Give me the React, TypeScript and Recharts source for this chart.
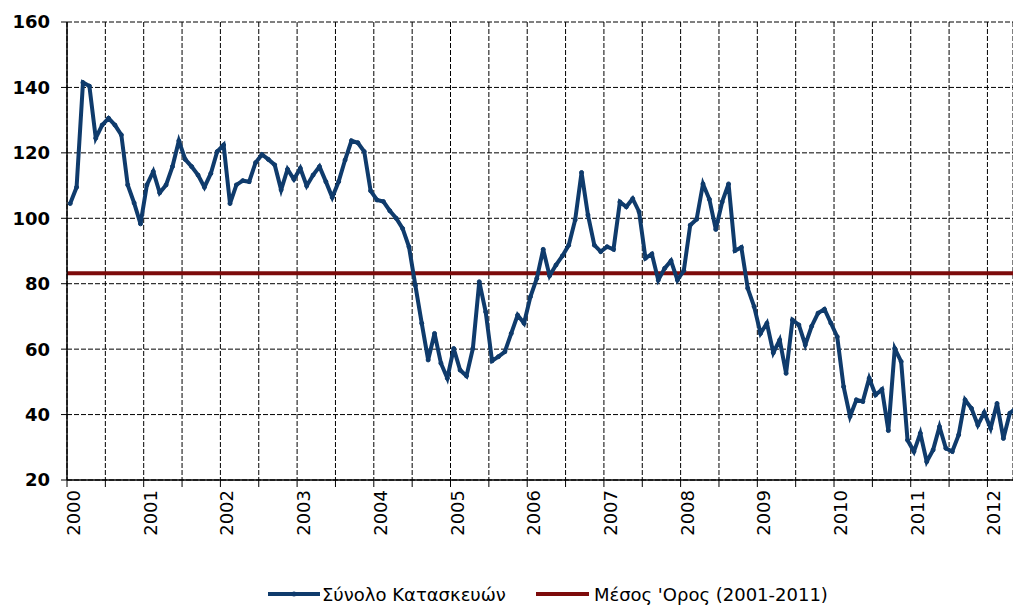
import React from 'react';
import { LineChart, Line, XAxis, YAxis, CartesianGrid, Legend } from 'recharts';

// Tick labels
const years = ['2000', '2001', '2002', '2003', '2004', '2005', '2006', '2007', '2008', '2009', '2010', '2011', '2012'];
const yTicks = [20, 40, 60, 80, 100, 120, 140, 160];

// Series: Σύνολο Κατασκευών (monthly)
const v2000 = [104.5, 109.5, 141.5, 140.4, 124.5, 128.5, 130.6, 128.5, 125.5, 110.2, 104.7, 98.3];
const v2001 = [110.2, 114.3, 107.8, 110.2, 115.8, 123.7, 118.0, 115.8, 113.2, 109.5, 113.7, 120.4];
const v2002 = [122.4, 104.5, 110.2, 111.5, 111.2, 117.0, 119.5, 118.0, 116.3, 108.7, 115.0, 111.9];
const v2003 = [115.3, 109.9, 113.2, 115.8, 111.2, 106.4, 111.2, 117.8, 123.7, 123.1, 120.4, 108.4];
const v2004 = [105.6, 105.1, 102.3, 100.0, 96.9, 91.3, 79.5, 67.9, 56.7, 64.8, 55.7, 51.1];
const v2005 = [60.2, 53.6, 51.8, 60.2, 80.6, 71.4, 56.4, 57.7, 59.2, 64.8, 70.4, 67.9];
const v2006 = [76.0, 81.6, 90.5, 82.4, 85.7, 88.5, 91.8, 99.5, 114.0, 101.0, 91.8, 89.8];
const v2007 = [91.3, 90.5, 105.0, 103.5, 106.0, 102.0, 87.8, 89.1, 81.1, 84.7, 87.0, 81.1];
const v2008 = [84.0, 97.9, 99.7, 110.5, 105.8, 96.6, 105.0, 110.5, 90.1, 91.1, 78.6, 73.0];
const v2009 = [64.8, 67.9, 58.9, 62.8, 52.6, 68.9, 67.4, 61.3, 67.0, 71.0, 72.2, 68.0];
const v2010 = [63.8, 48.5, 39.4, 44.5, 44.0, 51.1, 46.0, 47.7, 35.1, 60.2, 56.2, 32.2];
const v2011 = [28.7, 34.3, 25.6, 29.2, 36.3, 29.7, 28.7, 33.8, 44.5, 41.9, 36.8, 40.6];
const v2012 = [35.8, 43.4, 32.7, 40.4, 42.0];

// Series: Μέσος 'Ορος (2001-2011)
const meanValue = 83.2;

const totalSeries = [
  ...v2000, ...v2001, ...v2002, ...v2003, ...v2004, ...v2005, ...v2006,
  ...v2007, ...v2008, ...v2009, ...v2010, ...v2011, ...v2012,
];

const X_MAX = 148;
const seriesData = totalSeries.map((v, i) => ({ m: i + 0.5, total: v }));
const meanData = [
  { m: 0, avg: meanValue },
  { m: X_MAX, avg: meanValue },
];
const xTicks = years.flatMap((_, i) => [i * 12, i * 12 + 6]).filter((t) => t <= X_MAX);

const FONT = 'DejaVu Sans';
const BLUE = '#0f3b6c';
const RED = '#7d0b0b';

const XTick = (props: any) => {
  const { x, y, payload } = props;
  const v = payload.value;
  if (v % 12 !== 0) return <g />;
  const label = years[v / 12];
  return (
    <text
      transform={`translate(${x + 13},${y}) rotate(-90)`}
      textAnchor="end"
      fontSize={18}
      fontFamily={FONT}
      fill="#000"
    >
      {label}
    </text>
  );
};

const LegendContent = () => (
  <div
    style={{
      height: 30,
      width: 1013,
      display: 'flex',
      alignItems: 'center',
      fontFamily: FONT,
      fontSize: 18,
      color: '#000',
      whiteSpace: 'nowrap',
    }}
  >
    <div style={{ marginLeft: 268, display: 'flex', alignItems: 'center' }}>
      <svg width={52} height={10} style={{ display: 'block' }}>
        <line x1={0} y1={5} x2={52} y2={5} stroke={BLUE} strokeWidth={4} />
        <circle cx={26} cy={5} r={2.5} fill={BLUE} />
      </svg>
      <span style={{ marginLeft: 2 }}>Σύνολο Κατασκευών</span>
    </div>
    <div style={{ marginLeft: 30, display: 'flex', alignItems: 'center' }}>
      <svg width={53} height={10} style={{ display: 'block' }}>
        <line x1={0} y1={5} x2={53} y2={5} stroke={RED} strokeWidth={4} />
      </svg>
      <span style={{ marginLeft: 5 }}>Μέσος 'Ορος (2001-2011)</span>
    </div>
  </div>
);

export default function App() {
  return (
    <div
      style={{
        position: 'fixed',
        left: 0,
        top: 0,
        width: 1013,
        height: 611,
        overflow: 'hidden',
        background: '#fff',
      }}
    >
      <LineChart width={1013} height={611} margin={{ top: 22, right: 0, left: 0, bottom: 2 }}>
        <CartesianGrid stroke="#000" strokeDasharray="5 2" strokeWidth={1} />
        <XAxis
          type="number"
          dataKey="m"
          domain={[0, X_MAX]}
          ticks={xTicks}
          allowDataOverflow
          height={99}
          tick={<XTick />}
          tickSize={7}
          tickMargin={3}
          stroke="#000"
          axisLine={{ stroke: '#000', strokeWidth: 1.5 }}
          tickLine={{ stroke: '#000' }}
          interval={0}
        />
        <YAxis
          type="number"
          domain={[20, 160]}
          ticks={yTicks}
          width={67}
          tickSize={6}
          tickMargin={11}
          allowDataOverflow
          stroke="#000"
          axisLine={{ stroke: '#000', strokeWidth: 1.5 }}
          tickLine={{ stroke: '#000' }}
          tick={{ fontSize: 18, fontFamily: FONT, fontWeight: 'bold', fill: '#000' }}
          interval={0}
        />
        <Legend verticalAlign="bottom" height={30} content={<LegendContent />} wrapperStyle={{ left: 0, width: 1013 }} />
        <Line
          data={meanData}
          dataKey="avg"
          type="linear"
          stroke={RED}
          strokeWidth={4}
          dot={false}
          isAnimationActive={false}
        />
        <Line
          data={seriesData}
          dataKey="total"
          type="linear"
          stroke={BLUE}
          strokeWidth={4}
          dot={{ r: 2, fill: BLUE, stroke: BLUE, strokeWidth: 1 }}
          isAnimationActive={false}
        />
      </LineChart>
    </div>
  );
}
